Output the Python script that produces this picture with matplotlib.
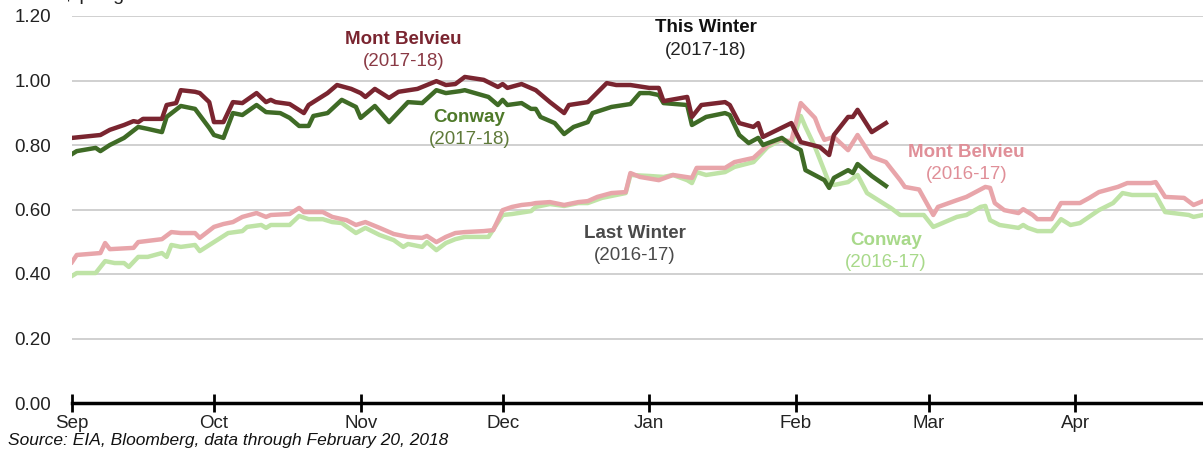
import matplotlib
matplotlib.use("Agg")
import matplotlib.pyplot as plt
import matplotlib.dates as mdates
import pandas as pd

plt.rcParams['font.family'] = ['Liberation Sans', 'DejaVu Sans']

# ---- Data (season axis: Sep -> Apr) ----
mb17_dates = ["2017-09-01", "2017-09-07", "2017-09-09", "2017-09-12", "2017-09-14", "2017-09-15",
              "2017-09-16", "2017-09-20", "2017-09-21", "2017-09-23", "2017-09-24", "2017-09-27",
              "2017-09-28", "2017-09-30", "2017-10-01", "2017-10-03", "2017-10-05", "2017-10-07",
              "2017-10-10", "2017-10-12", "2017-10-13", "2017-10-14", "2017-10-17", "2017-10-20",
              "2017-10-21", "2017-10-25", "2017-10-27", "2017-10-30", "2017-11-01", "2017-11-02",
              "2017-11-04", "2017-11-07", "2017-11-09", "2017-11-13", "2017-11-14", "2017-11-17",
              "2017-11-19", "2017-11-21", "2017-11-23", "2017-11-27", "2017-11-30", "2017-12-01",
              "2017-12-02", "2017-12-05", "2017-12-08", "2017-12-11", "2017-12-14", "2017-12-15",
              "2017-12-19", "2017-12-23", "2017-12-25", "2017-12-28", "2018-01-01", "2018-01-03",
              "2018-01-04", "2018-01-09", "2018-01-10", "2018-01-12", "2018-01-17", "2018-01-18",
              "2018-01-20", "2018-01-23", "2018-01-24", "2018-01-25", "2018-01-31", "2018-02-02",
              "2018-02-06", "2018-02-08", "2018-02-09", "2018-02-12", "2018-02-13", "2018-02-14",
              "2018-02-17", "2018-02-20"]
mb17_values = [0.822, 0.831, 0.847, 0.862, 0.874, 0.871,
               0.881, 0.881, 0.924, 0.930, 0.970, 0.965,
               0.961, 0.933, 0.871, 0.871, 0.933, 0.930,
               0.961, 0.933, 0.940, 0.933, 0.927, 0.899,
               0.924, 0.961, 0.986, 0.974, 0.961, 0.949,
               0.974, 0.946, 0.965, 0.974, 0.980, 0.998,
               0.986, 0.989, 1.011, 1.002, 0.980, 0.989,
               0.977, 0.989, 0.970, 0.933, 0.899, 0.924,
               0.933, 0.992, 0.986, 0.986, 0.977, 0.977,
               0.936, 0.949, 0.887, 0.924, 0.933, 0.924,
               0.868, 0.856, 0.868, 0.825, 0.868, 0.809,
               0.794, 0.769, 0.831, 0.887, 0.887, 0.909,
               0.840, 0.868]

cw17_dates = ["2017-09-01", "2017-09-02", "2017-09-06", "2017-09-07", "2017-09-09", "2017-09-12",
              "2017-09-15", "2017-09-17", "2017-09-20", "2017-09-21", "2017-09-24", "2017-09-27",
              "2017-09-30", "2017-10-01", "2017-10-03", "2017-10-05", "2017-10-07", "2017-10-10",
              "2017-10-12", "2017-10-15", "2017-10-17", "2017-10-19", "2017-10-21", "2017-10-22",
              "2017-10-25", "2017-10-28", "2017-10-31", "2017-11-01", "2017-11-04", "2017-11-07",
              "2017-11-11", "2017-11-14", "2017-11-17", "2017-11-19", "2017-11-22", "2017-11-23",
              "2017-11-28", "2017-11-30", "2017-12-01", "2017-12-02", "2017-12-05", "2017-12-07",
              "2017-12-08", "2017-12-09", "2017-12-12", "2017-12-14", "2017-12-16", "2017-12-19",
              "2017-12-20", "2017-12-24", "2017-12-28", "2017-12-30", "2018-01-01", "2018-01-03",
              "2018-01-04", "2018-01-09", "2018-01-10", "2018-01-13", "2018-01-17", "2018-01-18",
              "2018-01-20", "2018-01-22", "2018-01-24", "2018-01-25", "2018-01-29", "2018-01-31",
              "2018-02-02", "2018-02-03", "2018-02-07", "2018-02-08", "2018-02-09", "2018-02-12",
              "2018-02-13", "2018-02-14", "2018-02-17", "2018-02-20"]
cw17_values = [0.772, 0.781, 0.791, 0.781, 0.800, 0.822,
               0.856, 0.850, 0.840, 0.887, 0.921, 0.912,
               0.853, 0.831, 0.822, 0.899, 0.893, 0.924,
               0.902, 0.899, 0.884, 0.859, 0.859, 0.890,
               0.899, 0.940, 0.918, 0.884, 0.921, 0.871,
               0.933, 0.930, 0.970, 0.961, 0.967, 0.970,
               0.949, 0.924, 0.940, 0.924, 0.930, 0.912,
               0.912, 0.887, 0.868, 0.834, 0.856, 0.871,
               0.899, 0.918, 0.927, 0.961, 0.961, 0.955,
               0.930, 0.924, 0.862, 0.887, 0.899, 0.893,
               0.831, 0.806, 0.822, 0.800, 0.822, 0.800,
               0.784, 0.722, 0.691, 0.667, 0.698, 0.722,
               0.713, 0.741, 0.704, 0.673]

mb16_dates = ["2016-09-01", "2016-09-02", "2016-09-07", "2016-09-08", "2016-09-09", "2016-09-14",
              "2016-09-15", "2016-09-20", "2016-09-22", "2016-09-24", "2016-09-27", "2016-09-28",
              "2016-10-01", "2016-10-03", "2016-10-05", "2016-10-07", "2016-10-10", "2016-10-12",
              "2016-10-13", "2016-10-17", "2016-10-19", "2016-10-20", "2016-10-24", "2016-10-26",
              "2016-10-29", "2016-10-31", "2016-11-02", "2016-11-05", "2016-11-08", "2016-11-11",
              "2016-11-14", "2016-11-15", "2016-11-17", "2016-11-19", "2016-11-21", "2016-11-23",
              "2016-11-27", "2016-11-29", "2016-12-01", "2016-12-03", "2016-12-05", "2016-12-07",
              "2016-12-08", "2016-12-11", "2016-12-14", "2016-12-17", "2016-12-19", "2016-12-21",
              "2016-12-24", "2016-12-27", "2016-12-28", "2016-12-30", "2017-01-03", "2017-01-06",
              "2017-01-10", "2017-01-11", "2017-01-17", "2017-01-19", "2017-01-23", "2017-01-26",
              "2017-01-28", "2017-01-31", "2017-02-02", "2017-02-05", "2017-02-06", "2017-02-07",
              "2017-02-09", "2017-02-12", "2017-02-14", "2017-02-17", "2017-02-20", "2017-02-23",
              "2017-02-24", "2017-02-27", "2017-03-02", "2017-03-03", "2017-03-07", "2017-03-09",
              "2017-03-13", "2017-03-14", "2017-03-15", "2017-03-17", "2017-03-20", "2017-03-21",
              "2017-03-23", "2017-03-24", "2017-03-27", "2017-03-29", "2017-04-02", "2017-04-04",
              "2017-04-06", "2017-04-10", "2017-04-12", "2017-04-17", "2017-04-18", "2017-04-20",
              "2017-04-24", "2017-04-26", "2017-04-28"]
mb16_values = [0.437, 0.459, 0.465, 0.496, 0.477, 0.481,
               0.499, 0.508, 0.530, 0.527, 0.527, 0.512,
               0.546, 0.555, 0.561, 0.577, 0.589, 0.577,
               0.583, 0.586, 0.605, 0.592, 0.592, 0.577,
               0.567, 0.552, 0.561, 0.543, 0.524, 0.515,
               0.512, 0.518, 0.499, 0.515, 0.527, 0.530,
               0.533, 0.536, 0.598, 0.608, 0.614, 0.617,
               0.620, 0.623, 0.614, 0.623, 0.626, 0.639,
               0.651, 0.654, 0.713, 0.701, 0.691, 0.707,
               0.698, 0.729, 0.729, 0.747, 0.760, 0.800,
               0.816, 0.812, 0.930, 0.884, 0.846, 0.816,
               0.825, 0.784, 0.831, 0.763, 0.747, 0.691,
               0.670, 0.662, 0.583, 0.608, 0.629, 0.639,
               0.670, 0.667, 0.620, 0.598, 0.589, 0.601,
               0.583, 0.570, 0.570, 0.620, 0.620, 0.636,
               0.654, 0.670, 0.682, 0.682, 0.685, 0.639,
               0.636, 0.614, 0.626]

cw16_dates = ["2016-09-01", "2016-09-02", "2016-09-06", "2016-09-08", "2016-09-10", "2016-09-12",
              "2016-09-13", "2016-09-15", "2016-09-17", "2016-09-20", "2016-09-21", "2016-09-22",
              "2016-09-24", "2016-09-27", "2016-09-28", "2016-10-01", "2016-10-04", "2016-10-07",
              "2016-10-08", "2016-10-11", "2016-10-12", "2016-10-13", "2016-10-17", "2016-10-19",
              "2016-10-21", "2016-10-24", "2016-10-26", "2016-10-28", "2016-10-31", "2016-11-02",
              "2016-11-05", "2016-11-08", "2016-11-10", "2016-11-11", "2016-11-14", "2016-11-15",
              "2016-11-17", "2016-11-19", "2016-11-21", "2016-11-23", "2016-11-28", "2016-12-01",
              "2016-12-03", "2016-12-07", "2016-12-08", "2016-12-11", "2016-12-14", "2016-12-17",
              "2016-12-19", "2016-12-22", "2016-12-25", "2016-12-27", "2016-12-28", "2017-01-01",
              "2017-01-04", "2017-01-06", "2017-01-09", "2017-01-10", "2017-01-11", "2017-01-13",
              "2017-01-17", "2017-01-19", "2017-01-23", "2017-01-26", "2017-01-28", "2017-01-29",
              "2017-01-31", "2017-02-02", "2017-02-03", "2017-02-05", "2017-02-08", "2017-02-09",
              "2017-02-12", "2017-02-14", "2017-02-16", "2017-02-20", "2017-02-21", "2017-02-23",
              "2017-02-28", "2017-03-02", "2017-03-03", "2017-03-07", "2017-03-09", "2017-03-12",
              "2017-03-13", "2017-03-14", "2017-03-16", "2017-03-20", "2017-03-21", "2017-03-22",
              "2017-03-24", "2017-03-27", "2017-03-29", "2017-03-31", "2017-04-02", "2017-04-06",
              "2017-04-09", "2017-04-11", "2017-04-13", "2017-04-18", "2017-04-20", "2017-04-25",
              "2017-04-26", "2017-04-28"]
cw16_values = [0.394, 0.403, 0.403, 0.440, 0.434, 0.434,
               0.422, 0.453, 0.453, 0.465, 0.453, 0.490,
               0.484, 0.490, 0.471, 0.499, 0.527, 0.533,
               0.546, 0.552, 0.543, 0.552, 0.552, 0.580,
               0.570, 0.570, 0.561, 0.558, 0.527, 0.543,
               0.521, 0.505, 0.484, 0.493, 0.484, 0.499,
               0.474, 0.496, 0.508, 0.515, 0.515, 0.583,
               0.586, 0.595, 0.608, 0.617, 0.611, 0.620,
               0.620, 0.636, 0.645, 0.651, 0.707, 0.704,
               0.701, 0.707, 0.691, 0.682, 0.716, 0.707,
               0.716, 0.732, 0.747, 0.794, 0.809, 0.816,
               0.800, 0.890, 0.856, 0.794, 0.682, 0.676,
               0.685, 0.707, 0.651, 0.614, 0.605, 0.583,
               0.583, 0.546, 0.552, 0.577, 0.583, 0.608,
               0.611, 0.567, 0.552, 0.543, 0.552, 0.543,
               0.533, 0.533, 0.570, 0.552, 0.558, 0.598,
               0.620, 0.651, 0.645, 0.645, 0.592, 0.583,
               0.577, 0.583]

month_labels = ["Sep", "Oct", "Nov", "Dec", "Jan", "Feb", "Mar", "Apr"]
y_ticks = [0.0, 0.2, 0.4, 0.6, 0.8, 1.0, 1.2]

# ---- Colours ----
c_mb17 = "#7a2530"
c_cw17 = "#3f6b26"
c_mb16 = "#e8a5aa"
c_cw16 = "#bfe3a6"

fig = plt.figure(figsize=(12.03, 4.54), dpi=100)
ax = fig.add_axes([72/1203, 51/454, (1203-72)/1203, (403-16)/454])

def season(dates, shift_years=0):
    d = pd.to_datetime(dates)
    if shift_years:
        d = d + pd.DateOffset(years=shift_years)
    return d

lw = 3.2
ax.plot(season(cw16_dates, 1), cw16_values, color=c_cw16, lw=lw, solid_joinstyle='round', zorder=2)
ax.plot(season(mb16_dates, 1), mb16_values, color=c_mb16, lw=lw, solid_joinstyle='round', zorder=3)
ax.plot(season(cw17_dates), cw17_values, color=c_cw17, lw=lw, solid_joinstyle='round', zorder=4)
ax.plot(season(mb17_dates), mb17_values, color=c_mb17, lw=lw, solid_joinstyle='round', zorder=5)

start = pd.Timestamp("2017-09-01")
end = pd.Timestamp("2018-04-28")
ax.set_xlim(start, end)
ax.set_ylim(0, 1.2)

tick_dates = pd.date_range("2017-09-01", periods=len(month_labels), freq="MS")
ax.set_xticks(tick_dates)
ax.set_xticklabels(month_labels)
ax.set_yticks(y_ticks)
ax.set_yticklabels([f"{v:.2f}" for v in y_ticks])

for v in y_ticks[1:]:
    ax.axhline(v, color="#c8c8c8", lw=1.2, zorder=1)

for s in ["top", "right", "left"]:
    ax.spines[s].set_visible(False)
ax.spines["bottom"].set_linewidth(2.5)
ax.spines["bottom"].set_color("black")
ax.spines["bottom"].set_zorder(6)

ax.tick_params(axis="x", direction="inout", length=13, width=2, colors="black",
               labelsize=13.5, pad=2, labelcolor="#222222")
ax.tick_params(axis="y", length=0, labelsize=13.5, pad=15, labelcolor="#222222")

# ---- Annotations ----
def label(x, y, title, sub, color, subcolor=None):
    ax.text(x, y, title, color=color, fontsize=13.5, fontweight="bold", ha="center", va="center",
            transform=ax.transData)
    ax.text(x, y - 0.069, sub, color=subcolor or color, fontsize=13.5, ha="center", va="center",
            transform=ax.transData)

def d(s):
    return mdates.date2num(pd.Timestamp(s))

label(d("2017-11-10"), 1.128, "Mont Belvieu", "(2017-18)", "#7a2530", "#8a3a45")
label(d("2018-01-13"), 1.163, "This Winter", "(2017-18)", "#111111", "#222222")
label(d("2017-11-24"), 0.885, "Conway", "(2017-18)", "#4f7a2a", "#5f7a3a")
label(d("2018-03-09"), 0.776, "Mont Belvieu", "(2016-17)", "#e08f98", "#e08f98")
label(d("2017-12-29"), 0.526, "Last Winter", "(2016-17)", "#4a4a4a", "#4a4a4a")
label(d("2018-02-20"), 0.505, "Conway", "(2016-17)", "#a8d98a", "#a8d98a")

fig.text(8/1203, 1 - 441/454, "Source: EIA, Bloomberg, data through February 20, 2018",
         fontsize=12.5, style="italic", ha="left", va="center", color="#111111")
fig.text(63/1203, 1.0, "$ per gallon", fontsize=14, ha="left", va="baseline", color="#222222")

fig.savefig("out.png", dpi=100)
